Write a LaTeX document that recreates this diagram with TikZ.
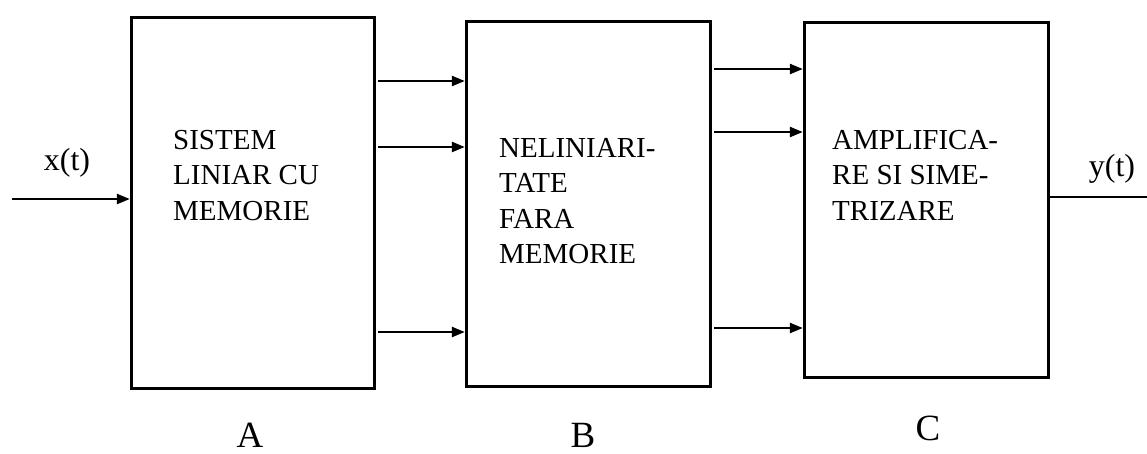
\documentclass[tikz,border=0pt]{standalone}
\usepackage{fontspec}
\setmainfont{Liberation Serif}
\usetikzlibrary{arrows.meta}
\begin{document}
\begin{tikzpicture}[x=1pt,y=-1pt,
  blockbox/.style={draw,line width=3.4pt,minimum width=#1,inner sep=0pt},
  boxtext/.style={anchor=north west,inner sep=0pt,align=left,
    font=\fontsize{29}{35.5}\selectfont},
  sig/.style={line width=2.4pt},
  arr/.style={sig,-{Triangle[length=13pt,width=10pt]}},
  lbl/.style={anchor=base,inner sep=0pt,font=\fontsize{37}{40}\selectfont},
  sigl/.style={anchor=base,inner sep=0pt,font=\fontsize{32}{36}\selectfont}]
\useasboundingbox (0,0) rectangle (1147,453);
% blocks
\node[blockbox=243pt,minimum height=371pt] (A) at (253,203) {};
\node[blockbox=244pt,minimum height=365pt] (B) at (588.5,204) {};
\node[blockbox=244pt,minimum height=355pt] (C) at (926.5,200) {};
% texts
\node[boxtext] (tA) at (173,130) {SISTEM\\LINIAR CU\\MEMORIE};
\node[boxtext] (tB) at (499,138) {NELINIARI-\\TATE\\FARA\\MEMORIE};
\node[boxtext] (tC) at (832,130) {AMPLIFICA-\\RE SI SIME-\\TRIZARE};
% labels
\node[lbl] (lA) at (250,447) {A};
\node[lbl] (lB) at (583,447) {B};
\node[lbl] (lC) at (928,440) {C};
\node[sigl] (xt) at (67,170) {x(t)};
\node[sigl] (yt) at (1112,176) {y(t)};
% connectors
\coordinate (in) at (12,199);
\coordinate (out) at (1147,197);
\draw[arr] (in) -- (A.west |- in);
\draw[arr] ([xshift=2pt]A.east |- 0,81) -- (B.west |- 0,81);
\draw[arr] ([xshift=2pt]A.east |- 0,147) -- (B.west |- 0,147);
\draw[arr] ([xshift=2pt]A.east |- 0,332) -- (B.west |- 0,332);
\draw[arr] ([xshift=2pt]B.east |- 0,69) -- (C.west |- 0,69);
\draw[arr] ([xshift=2pt]B.east |- 0,132) -- (C.west |- 0,132);
\draw[arr] ([xshift=2pt]B.east |- 0,328) -- (C.west |- 0,328);
\draw[sig] (C.east |- out) -- (out);
\end{tikzpicture}
\end{document}
